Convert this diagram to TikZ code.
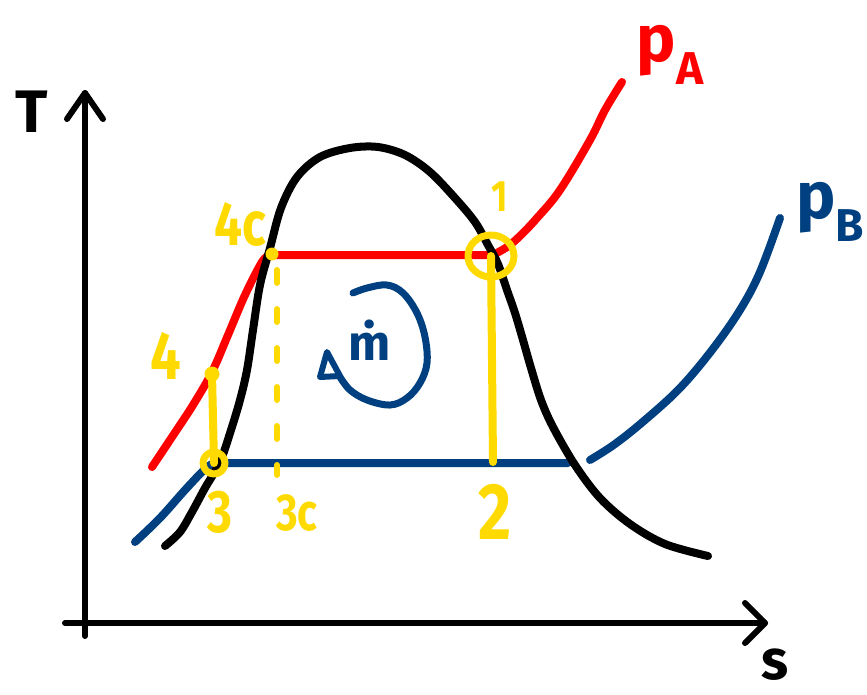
\documentclass[tikz,border=0pt]{standalone}
\usepackage{fontspec}
\setmainfont{Fira Sans}
\definecolor{myred}{RGB}{255,0,0}
\definecolor{myblue}{RGB}{0,64,128}
\definecolor{myyellow}{RGB}{255,218,0}
\begin{document}
\begin{tikzpicture}[x=1pt,y=-1pt,line cap=round,line join=round,
  axis/.style={line width=6pt,black},
  curve/.style={line width=8pt},
  ylab/.style={text=myyellow,font=\bfseries,inner sep=0pt,xscale=0.8},
  klab/.style={text=black,font=\bfseries,inner sep=0pt}]
\useasboundingbox (0,0) rectangle (867,694);
% axes
\coordinate (yo) at (85,636);
\coordinate (ytip) at (85,93);
\coordinate (xo) at (65,623);
\coordinate (xtip) at (765,623);
\draw[axis] (yo) -- (ytip);
\draw[axis] (67,119) -- (ytip) -- (103,119);
\draw[axis] (xo) -- (xtip);
\draw[axis] (745,603) -- (xtip) -- (745,643);
\node[klab,font=\bfseries\fontsize{60}{60}\selectfont] (T) at (32,112) {T};
\node[klab,font=\bfseries\fontsize{56}{56}\selectfont] (s) at (775,665) {s};
% blue isobar pB
\draw[curve,myblue] plot[smooth,tension=0.6] coordinates {(135,542) (160,518) (185,490) (205,469) (214,463)} -- (568,463);
\draw[curve,myblue] plot[smooth,tension=0.6] coordinates {(590,460) (615,444) (645,420) (680,388) (712,350) (740,310) (760,272) (780,218)};
% red isobar pA
\draw[curve,myred] plot[smooth,tension=0.6] coordinates {(152,467) (172,437) (193,405) (212,372) (228,335) (245,295) (262,262) (270,255)} -- (493,255)
  plot[smooth,tension=0.6] coordinates {(493,255) (507,247) (520,236) (537,218) (560,190) (590,140) (605,110) (622,82)};
% saturation dome
\draw[curve,black] plot[smooth,tension=0.55] coordinates {(165,546) (180,532) (192,512) (205,488) (220,462) (231,430) (240,400) (247,370) (253,330) (260,285) (270,248) (281,208) (297,177) (320,157) (350,148) (378,147) (405,155) (430,172) (455,198) (475,222) (488,245) (498,264) (507,290) (515,313) (523,340) (531,368) (541,400) (553,427) (575,465) (600,498) (630,524) (665,544) (708,556)};
% yellow markings
\coordinate (p3) at (214,463);
\coordinate (p4) at (212,374);
\coordinate (p4c) at (272,254);
\coordinate (p1) at (491,256);
\coordinate (p2) at (493,462);
\draw[curve,myyellow] (p3) -- (p4);
\fill[myyellow] (p4) circle (7.5);
\draw[line width=7pt,myyellow] (p3) circle (11);
\fill[myyellow] (p4c) circle (6.5);
\draw[line width=7pt,myyellow] (p1) ellipse (23 and 21);
\draw[curve,myyellow] (p1) -- (p2);
\draw[line width=6pt,myyellow,dash pattern=on 13pt off 26pt] (277,270) -- (277,475);
\node[ylab,font=\bfseries\fontsize{62}{62}\selectfont] (l4c) at (240,225) {4c};
\node[ylab,font=\bfseries\fontsize{68}{68}\selectfont] (l4) at (166,356) {4};
\node[ylab,font=\bfseries\fontsize{60}{60}\selectfont] (l3) at (220,512) {3};
\node[ylab,font=\bfseries\fontsize{52}{52}\selectfont] (l3c) at (297,513) {3c};
\node[ylab,font=\bfseries\fontsize{80}{80}\selectfont] (l2) at (495,512) {2};
\node[ylab,font=\bfseries\fontsize{44}{44}\selectfont] (l1) at (500,197) {1};
% pressure labels
\node[inner sep=0pt,text=myred,font=\bfseries\fontsize{66}{66}\selectfont] (pA) at (670,55) {p\raisebox{-0.35em}{\fontsize{46}{46}\selectfont A}};
\node[inner sep=0pt,text=myblue,font=\bfseries\fontsize{66}{66}\selectfont] (pB) at (830,212) {p\raisebox{-0.35em}{\fontsize{46}{46}\selectfont B}};
% cycle loop
\draw[line width=7pt,myblue] plot[smooth,tension=0.6] coordinates {(353,293) (367,288) (387,285) (403,293) (417,313) (425,337) (427,363) (420,383) (407,398) (390,405) (367,400) (350,390) (340,377)};
\draw[line width=6pt,myblue] (340,376) -- (327,352) -- (320,377) -- cycle;
\node[inner sep=0pt,text=myblue,font=\bfseries\fontsize{50}{50}\selectfont] (mdot) at (370,340) {ṁ};
\end{tikzpicture}
\end{document}
